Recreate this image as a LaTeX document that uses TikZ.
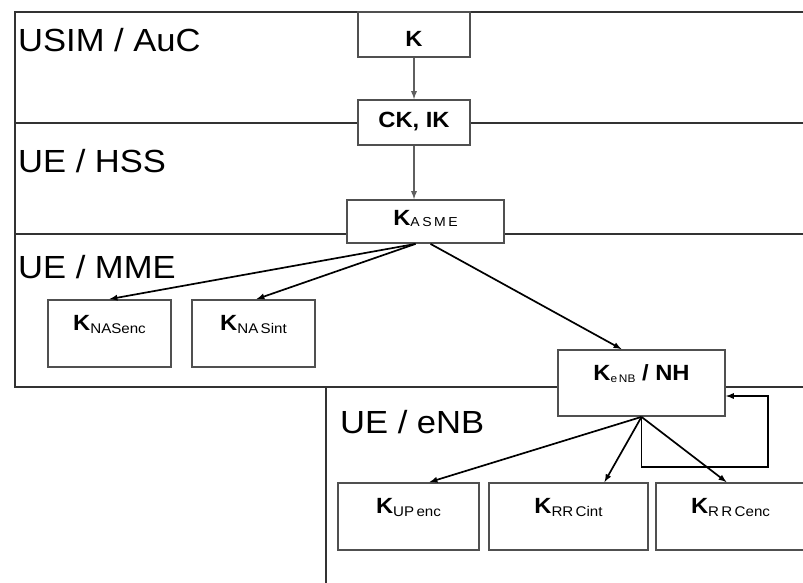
\documentclass[tikz,border=0pt]{standalone}
\usepackage{fontspec}
\setmainfont[FakeStretch=1.08]{Liberation Sans}
\usetikzlibrary{calc}

\definecolor{framegray}{RGB}{50,50,50}
\definecolor{boxgray}{RGB}{80,80,80}
\definecolor{arrowgray}{RGB}{95,95,95}

% key name: bold K with a small index
\newcommand{\ksub}[2][-3pt]{\textbf{K}\raisebox{#1}{\fontsize{14}{14}\selectfont #2}}

\tikzset{
  frame/.style={draw=framegray,line width=1.8pt},
  region/.style={anchor=base west,inner sep=0pt,font=\fontsize{32}{32}\selectfont},
  keybox/.style={draw=boxgray,fill=white,line width=1.8pt,inner sep=0pt,
    font=\fontsize{22}{22}\selectfont,text height=30pt,text depth=37pt},
  keyarrow/.style={->,line width=1.7pt},
  grayarrow/.style={->,line width=1.7pt,draw=arrowgray}
}

\begin{document}
\begin{tikzpicture}[x=1pt,y=-1pt,>=latex]
  \useasboundingbox (0,0) rectangle (803,583);
  \clip (0,0) rectangle (803,583);

  % frames of the key hierarchy
  \draw[frame] (803,12) -- (15,12) -- (15,387) -- (803,387);
  \draw[frame] (15,123) -- (803,123);
  \draw[frame] (15,234) -- (803,234);
  \draw[frame] (326,387) -- (326,583);

  \node[region] (usim) at (18,52) {USIM / AuC};
  \node[region] (hss) at (18,172) {UE / HSS};
  \node[region] (mme) at (18,278) {UE / MME};
  \node[region] (enb) at (340,433) {UE / eNB};

  % keys
  \node[keybox,minimum width=112pt,text height=35pt,text depth=10pt] (k) at (414,34.5) {\textbf{K}};
  \node[keybox,minimum width=112pt,text height=28pt,text depth=17pt] (ckik) at (414,122.5) {\textbf{CK, IK}};
  \node[keybox,minimum width=157pt,text height=25pt,text depth=18pt] (kasme) at (425.5,221.5)
    {\textbf{K}\raisebox{-1pt}{\fontsize{13}{13}\selectfont A\hspace{2.5pt}S\hspace{2.5pt}M\hspace{2.5pt}E}};
  \node[keybox,minimum width=123pt] (knasenc) at (109.5,333.5) {\ksub{NASenc}};
  \node[keybox,minimum width=123pt] (knasint) at (253.5,333.5) {\ksub{NA\,Sint}};
  \node[keybox,minimum width=167pt,text depth=36pt] (kenb) at (641.5,383)
    {\textbf{K}\raisebox{-2pt}{\fontsize{11}{11}\selectfont e\,NB} \textbf{/ NH}};
  \node[keybox,minimum width=141pt] (kupenc) at (408.5,516.5) {\ksub{UP\,enc}};
  \node[keybox,minimum width=159pt] (krrcint) at (568.5,516.5) {\ksub{RR\,Cint}};
  \node[keybox,minimum width=149pt] (krrcenc) at (730.5,516.5) {\ksub{R\,R\,Cenc}};

  % derivations
  \draw[grayarrow] (k) -- (ckik);
  \draw[grayarrow] (ckik.south) -- (ckik.south |- kasme.north);

  \coordinate (asmeL) at ($(kasme.south)+(-10,0)$);
  \coordinate (asmeR) at ($(kasme.south)+(5,0)$);
  \draw[keyarrow] (asmeL) -- (knasenc.north);
  \draw[keyarrow] (asmeL) -- ($(knasint.north)+(3,0)$);
  \draw[keyarrow] (asmeR) -- ($(kenb.north)+(-20,0)$);

  \draw[keyarrow] (kenb.south) -- ($(kupenc.north)+(21,0)$);
  \draw[keyarrow] (kenb.south) -- ($(krrcint.north)+(36,0)$);
  \draw[keyarrow] (kenb.south) -- ($(krrcenc.north)+(-4,0)$);
  \draw[keyarrow] (kenb.south) -- ++(0,50) -- ++(126.5,0) |- ($(kenb.east)+(0,13)$);
\end{tikzpicture}
\end{document}
